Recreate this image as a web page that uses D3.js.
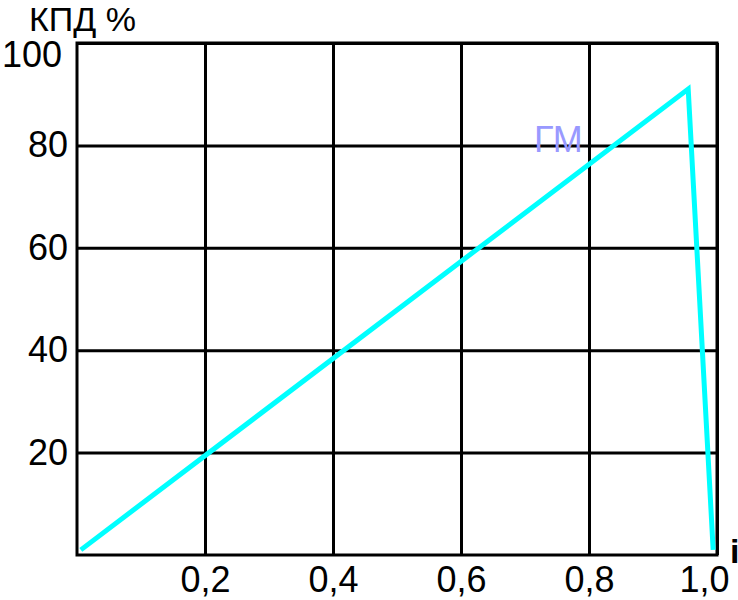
<!DOCTYPE html>
<html lang="ru">
<head>
<meta charset="UTF-8">
<title>КПД</title>
<script src="https://d3js.org/d3.v7.min.js"></script>
<style>
    body { margin: 0; background: #fff; }
    svg text { font-family: "Liberation Sans", Arial, sans-serif; }
</style>
</head>
<body>
<svg id="chart" width="738" height="600"></svg>
<script>
// data
const ratio = [0.006, 0.955, 0.994];      // i
const efficiency = [1, 91, 1];            // КПД, %
const xTicks = [0.2, 0.4, 0.6, 0.8, 1.0];
const xTickLabels = ["0,2", "0,4", "0,6", "0,8", "1,0"];
const yTicks = [20, 40, 60, 80, 100];
const yTickLabels = ["20", "40", "60", "80", "100"];
const seriesName = "ГМ";

const svg = d3.select("#chart");
const plotLeft = 77, plotRight = 717, plotTop = 43, plotBottom = 555;

const x = d3.scaleLinear().domain([0, 1]).range([plotLeft, plotRight]);
const y = d3.scaleLinear().domain([0, 100]).range([plotBottom, plotTop]);

// grid + labels via axes
const xAxis = d3.axisBottom(x)
    .tickValues(xTicks)
    .tickSize(-(plotBottom - plotTop))
    .tickPadding(11)
    .tickFormat((d, i) => xTickLabels[i]);

const yAxis = d3.axisLeft(y)
    .tickValues(yTicks)
    .tickSize(-(plotRight - plotLeft))
    .tickPadding(9)
    .tickFormat((d, i) => yTickLabels[i]);

const gx = svg.append("g")
    .attr("transform", "translate(0," + plotBottom + ")")
    .call(xAxis);
const gy = svg.append("g")
    .attr("transform", "translate(" + plotLeft + ",0)")
    .call(yAxis);

[gx, gy].forEach(g => {
    g.select(".domain").remove();
    g.selectAll(".tick line").attr("stroke", "#000").attr("stroke-width", 3);
    g.selectAll(".tick text")
        .attr("fill", "#000")
        .style("font-size", "36px");
});

// the end labels are nudged in the original
gx.selectAll(".tick text").filter(d => d === 1.0).attr("dx", -13);
gy.selectAll(".tick text").filter(d => d === 100).attr("dx", -6).attr("dy", "0.66em");

// frame
svg.append("rect")
    .attr("x", plotLeft).attr("y", plotTop)
    .attr("width", plotRight - plotLeft).attr("height", plotBottom - plotTop)
    .attr("fill", "none")
    .attr("stroke", "#000")
    .attr("stroke-width", 3);

// efficiency curve
const line = d3.line()
    .x((d, i) => x(ratio[i]))
    .y(d => y(d));

svg.append("path")
    .datum(efficiency)
    .attr("d", line)
    .attr("fill", "none")
    .attr("stroke", "#00ffff")
    .attr("stroke-width", 5)
    .attr("stroke-linejoin", "miter");

svg.append("text")
    .attr("x", 534).attr("y", 152)
    .attr("fill", "#9999ff")
    .style("font-size", "36px")
    .text(seriesName);

// axis titles
svg.append("text")
    .attr("x", 29).attr("y", 31)
    .style("font-size", "34px")
    .text("КПД %");

svg.append("text")
    .attr("x", 730).attr("y", 563)
    .style("font-size", "34px")
    .style("font-weight", "bold")
    .text("i");
</script>
</body>
</html>
